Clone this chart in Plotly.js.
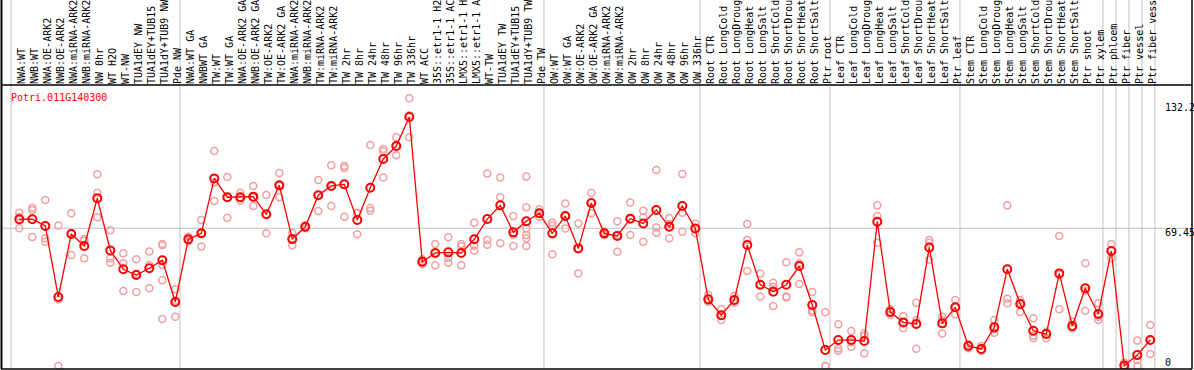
<!DOCTYPE html>
<html><head><meta charset="utf-8">
<script src="https://cdn.plot.ly/plotly-3.0.1.min.js"></script>
<style>html,body{margin:0;padding:0;background:#fff}#chart{width:1194px;height:370px}</style>
</head><body><div id="chart"></div>
<script>
const geneId = "Potri.011G140300";

const categories = [
  "NWA:WT","NWB:WT","NWA:OE-ARK2","NWB:OE-ARK2","NWA:miRNA-ARK2","NWB:miRNA-ARK2","NW 0hr","WT H2O","WT-NW","TUA1dEY NW","TUA1dEY+TUB15","TUA1dY+TUB9 NW","Pde NW",
  "NWA:WT GA","NWBWT GA","TW:WT","TW:WT GA","NWA:OE-ARK2 GA","NWB:OE-ARK2 GA","TW:OE-ARK2","TW:OE-ARK2 GA","NWA:miRNA-ARK2 GA","NWB:miRNA-ARK2 GA","TW:miRNA-ARK2","TW:miRNA-ARK2 GA",
  "TW 2hr","TW 8hr","TW 24hr","TW 48hr","TW 96hr","TW 336hr","WT ACC","35S::etr1-1 H2O","35S::etr1-1 ACC","LMX5::etr1-1 H2O","LMX5::etr1-1 ACC","WT-TW","TUA1dEY TW","TUA1dEY+TUB15","TUA1dY+TUB9 TW","Pde TW",
  "OW:WT","OW:WT GA","OW:OE-ARK2","OW:OE-ARK2 GA","OW:miRNA-ARK2","OW:miRNA-ARK2 GA","OW 2hr","OW 8hr","OW 24hr","OW 48hr","OW 96hr","OW 336hr",
  "Root CTR","Root LongCold","Root LongDrought","Root LongHeat","Root LongSalt","Root ShortCold","Root ShortDrought","Root ShortHeat","Root ShortSalt","Ptr root",
  "Leaf CTR","Leaf LongCold","Leaf LongDrought","Leaf LongHeat","Leaf LongSalt","Leaf ShortCold","Leaf ShortDrought","Leaf ShortHeat","Leaf ShortSalt","Ptr leaf",
  "Stem CTR","Stem LongCold","Stem LongDrought","Stem LongHeat","Stem LongSalt","Stem ShortCold","Stem ShortDrought","Stem ShortHeat","Stem ShortSalt","Ptr shoot","Ptr xylem",
  "Ptr phloem","Ptr fiber","Ptr vessel","Ptr fiber vessel"
];

const means = [
  74.0,74.0,70.6,34.8,66.6,60.5,84.6,58.3,48.8,45.9,49.3,53.3,32.3,
  63.9,66.9,94.6,85.1,85.1,85.4,76.5,91.1,64.0,70.2,86.1,90.8,
  91.6,73.6,89.9,104.4,110.9,125.6,52.6,57.0,57.3,57.0,63.9,74.1,81.0,67.4,73.0,77.0,
  66.9,75.6,59.3,82.2,66.9,65.6,74.3,71.9,78.7,70.2,80.7,69.4,
  33.6,25.6,33.3,61.0,41.0,37.5,41.0,50.4,30.8,8.1,
  13.1,13.1,12.6,72.8,27.2,22.0,21.2,59.8,21.5,29.6,
  10.1,8.6,19.5,48.8,31.3,17.8,16.1,46.7,20.2,39.2,26.2,
  58.0,0.2,5.5,13.1
];

const replicates = [
  [77.3,75.2,69.5],[79.8,78.7,65.1],[83.7,64.4,62.7],[70.9,33.5,0],[77.0,66.8,56.0],[63.2,64.0,54.3],
  [96.7,87.4,75.0],[68.4,54.3,52.1],[56.8,51.8,37.8],[53.8,46.5,37.3],[57.8,50.9,39.2],[61.5,60.9,50.9,43.2,23.7],[38.7,33.0,24.9],
  [65.2,63.6,62.9],[73.6,66.9,60.2],[108.4,92.6,83.2],[95.3,85.1,74.8],[87.4,85.0,83.4],[90.8,85.0,80.7],
  [86.2,76.5,66.9],[97.3,91.0,85.1],[67.1,64.0,60.9],[70.9,70.2,69.5],[93.8,86.2,78.2],[101.2,90.7,80.7],
  [100.9,99.8,75.3],[77.3,77.0,66.4],[111.4,79.7,78.3],[109.4,108.3,95.1],[115.3,110.9,106.3],[135.0,126.5,115.3],
  [53.8,52.6,51.4],[61.5,57.0,50.8],[64.9,54.6,52.1],[61.5,60.2,50.8],[72.3,60.7,58.1],[97.1,63.5,61.2],
  [95.1,85.1,61.9],[75.6,66.1,60.5],[95.5,80.0,69.4,66.1,64.4,60.5],[79.0,77.0,75.3],
  [72.3,70.9,56.3],[82.0,75.5,69.4],[71.9,59.3,46.7],[87.2,82.3,77.0],[67.7,66.9,66.1],[73.0,66.0,57.6],
  [82.4,74.3,66.1],[78.3,75.0,62.7],[98.8,69.9,67.2],[74.6,71.5,64.4],[96.8,77.3,67.7],[71.9,69.4,67.0],
  [35.8,32.6,32.4],[28.6,25.2,23.2],[35.3,33.0,31.9],[71.6,63.5,47.9],[46.7,41.0,35.1],[42.0,40.0,30.3],
  [52.3,35.1,34.6],[57.3,51.8,41.4],[37.3,28.0,27.1],[27.1,0,0],
  [21.0,8.9,7.7],[17.6,12.0,9.7],[16.4,15.1,6.4],[81.0,75.6,62.2],[28.6,27.2,25.8],[25.2,22.0,19.0],
  [31.9,23.2,8.7],[63.5,62.2,53.7],[24.9,23.2,16.4],[33.3,29.6,26.0],
  [11.1,10.2,8.9],[10.1,8.0,7.7],[23.2,18.5,16.8],[81.0,33.9,31.6],[33.3,31.9,27.2],[24.1,15.3,14.0],
  [17.3,16.8,14.0],[65.6,46.0,28.6],[22.3,19.3,19.0],[51.8,38.0,27.9],[31.6,24.9,23.2],
  [61.5,58.2,54.3],[1.7,0,0],[12.8,3.0,0],[20.7,13.0,6.1]
];

const yTickVals = [0, 69.45, 132.2];
const yTickText = ["0", "69.45", "132.2"];

// group separators (between category positions)
const groupBoundaries = [-0.64, 12.36, 40.36, 52.36, 62.36, 72.36, 83.36, 84.36, 85.36, 86.36, 87.36];

const idx = categories.map((_, i) => i);
const repX = [], repY = [];
replicates.forEach((arr, i) => arr.forEach(v => { repX.push(i); repY.push(v); }));

const mono = "DejaVu Sans Mono, Liberation Mono, monospace";

const traces = [
  {
    x: repX, y: repY, type: "scatter", mode: "markers",
    marker: {symbol: "circle-open", size: 7, color: "#f0a0a0", line: {width: 1.5, color: "#f0a0a0"}},
    hoverinfo: "skip", showlegend: false, cliponaxis: true
  },
  {
    x: idx, y: means, type: "scatter", mode: "lines+markers",
    line: {color: "#ff0000", width: 1.3},
    marker: {symbol: "circle-open", size: 8, color: "#ff0000", line: {width: 2, color: "#ff0000"}},
    showlegend: false, cliponaxis: true
  }
];

const shapes = [];
groupBoundaries.forEach(b => shapes.push({
  type: "line", xref: "x", yref: "paper", x0: b, x1: b, y0: 0, y1: 1.32,
  line: {color: "#c4c4c4", width: 1}, layer: "below"
}));
shapes.push({type: "line", xref: "paper", yref: "y", x0: 0, x1: 1, y0: yTickVals[1], y1: yTickVals[1],
  line: {color: "#c4c4c4", width: 1}, layer: "below"});
// frame
shapes.push({type: "line", xref: "paper", yref: "paper", x0: 0.0004, x1: 0.0004, y0: 0, y1: 1.32, line: {color: "#000", width: 2}});
shapes.push({type: "line", xref: "paper", yref: "paper", x0: 0, x1: 1, y0: 1, y1: 1, line: {color: "#000", width: 1.5}});
shapes.push({type: "line", xref: "paper", yref: "paper", x0: 0, x1: 1, y0: 0, y1: 0, line: {color: "#000", width: 1.5}});
shapes.push({type: "line", xref: "paper", yref: "paper", x0: 1, x1: 1, y0: 0, y1: 1.32, line: {color: "#000", width: 1.5}});

const annotations = [{
  text: geneId, xref: "paper", yref: "paper", x: 0.0067, y: 0.9577, xanchor: "left", yanchor: "middle",
  showarrow: false, font: {family: mono, size: 10, color: "#ff0000"}
}];
yTickVals.forEach((v, i) => annotations.push({
  text: yTickText[i], xref: "paper", yref: "y", x: 0.9757, y: v, xanchor: "left", yanchor: "middle",
  yshift: v === 0 ? 4 : -4, showarrow: false, font: {family: mono, size: 10, color: "#000"}
}));

const layout = {
  width: 1194, height: 370,
  margin: {l: 1, r: 2, t: 85, b: 1, pad: 0},
  paper_bgcolor: "#fff", plot_bgcolor: "#fff",
  showlegend: false,
  xaxis: {
    range: [-1.408, 90.21], side: "top", tickmode: "array", tickvals: idx, ticktext: categories,
    tickangle: -90, ticks: "", ticklabelshift: 2, showgrid: false, zeroline: false, showline: false, automargin: false,
    tickfont: {family: mono, size: 10, color: "#000"}
  },
  yaxis: {
    range: [-1.51, 141.7], showticklabels: false, ticks: "", showgrid: false, zeroline: false, showline: false, automargin: false
  },
  shapes: shapes, annotations: annotations
};

Plotly.newPlot("chart", traces, layout, {displayModeBar: false, staticPlot: true});
</script></body></html>
